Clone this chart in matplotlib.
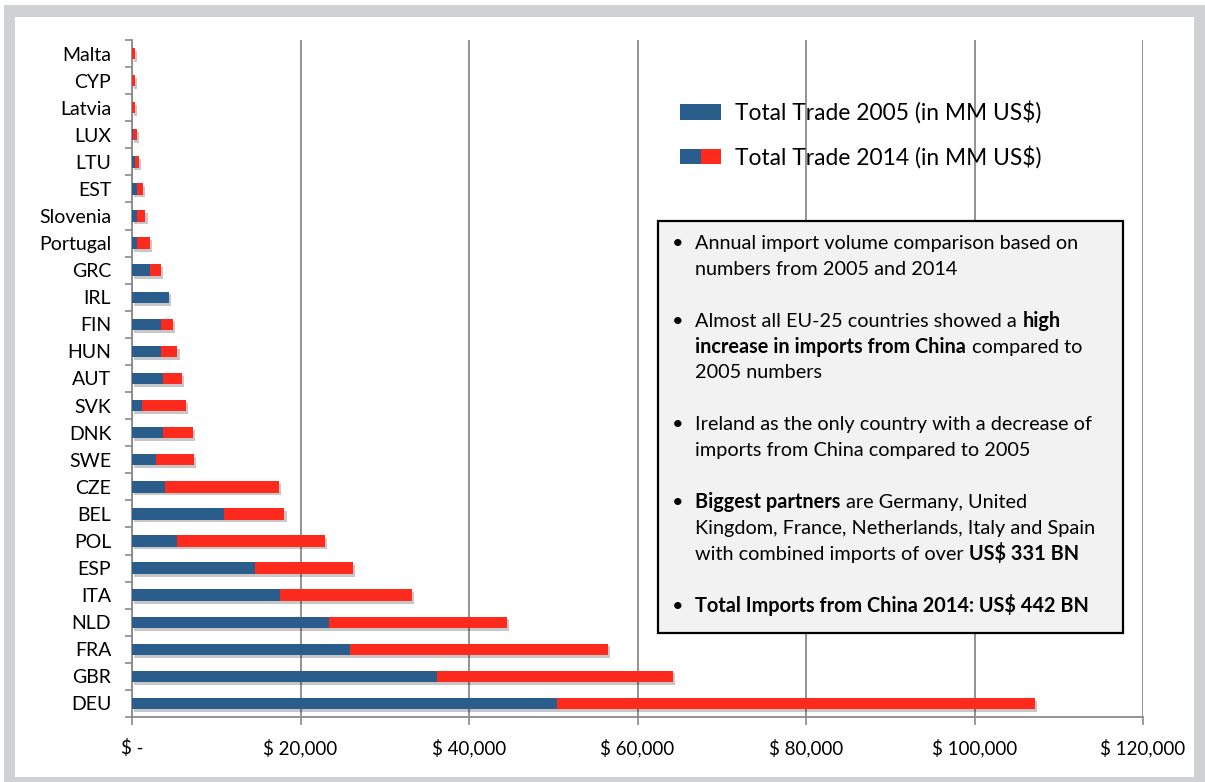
import numpy as np
import matplotlib
matplotlib.use('Agg')
import matplotlib.pyplot as plt
from matplotlib.patches import Rectangle, Patch
from matplotlib.legend_handler import HandlerTuple
from matplotlib.ticker import FuncFormatter, MultipleLocator
import matplotlib.patheffects as pe

plt.rcParams['font.family'] = ['Lato', 'DejaVu Sans']
plt.rcParams['text.parse_math'] = False

# imports from China, MM US$ (bottom to top)
countries = ['DEU', 'GBR', 'FRA', 'NLD', 'ITA', 'ESP', 'POL', 'BEL', 'CZE', 'SWE',
             'DNK', 'SVK', 'AUT', 'HUN', 'FIN', 'IRL', 'GRC', 'Portugal', 'Slovenia',
             'EST', 'LTU', 'LUX', 'Latvia', 'CYP', 'Malta']
trade_2005 = [50500, 36200, 25900, 23400, 17600, 14600, 5400, 10900, 3900, 2900,
              3700, 1200, 3700, 3400, 3400, 4400, 2100, 550, 550, 550,
              300, 100, 50, 50, 50]
trade_2014 = [107200, 64200, 56500, 44500, 33200, 26200, 22900, 18100, 17400, 7400,
              7200, 6400, 5900, 5400, 4900, 3900, 3400, 2100, 1600, 1300,
              800, 550, 300, 300, 360]
legend_labels = ['Total Trade 2005 (in MM US$)', 'Total Trade 2014 (in MM US$)']

notes = [
    (0, True, [('Annual import volume comparison based on', False)]),
    (1, False, [('numbers from 2005 and 2014', False)]),
    (3, True, [('Almost all EU-25 countries showed a ', False), ('high', True)]),
    (4, False, [('increase in imports from China', True), (' compared to', False)]),
    (5, False, [('2005 numbers', False)]),
    (7, True, [('Ireland as the only country with a decrease of', False)]),
    (8, False, [('imports from China compared to 2005', False)]),
    (10, True, [('Biggest partners', True), (' are Germany, United', False)]),
    (11, False, [('Kingdom, France, Netherlands, Italy and Spain', False)]),
    (12, False, [('with combined imports of over ', False), ('US$ 331 BN', True)]),
    (14, True, [('Total Imports from China 2014: US$ 442 BN', True)]),
]

blue = '#2b5d8c'
red = '#fe2a1e'
grid_gray = '#8a8a8a'

W, H = 1205, 782
def fx(px):
    return px / W
def fy(py):
    return 1 - py / H

fig = plt.figure(figsize=(W / 100, H / 100), dpi=100)
fig.patch.set_facecolor('white')
# grey frame round the slide
fig.patches.append(Rectangle((fx(4), 0), 1 - fx(4), fy(5), transform=fig.transFigure,
                             facecolor='#d0d1d3', edgecolor='none', zorder=-2))
fig.patches.append(Rectangle((fx(15), fy(777)), fx(1194) - fx(15), fy(17) - fy(777),
                             transform=fig.transFigure, facecolor='white',
                             edgecolor='none', zorder=-1))

ax = fig.add_axes([fx(132), fy(717), fx(1143) - fx(132), fy(40) - fy(717)])
ax.set_facecolor('none')

y = np.arange(len(countries))
t05 = np.array(trade_2005)
t14 = np.array(trade_2014)
bh = 0.42
# soft shadow under the bars
ax.barh(y, np.maximum(t05, t14), height=bh, color='k', zorder=2,
        path_effects=[pe.SimplePatchShadow(offset=(1.5, -2), shadow_rgbFace='k', alpha=0.22)])
ax.barh(y, t14, height=bh, color=red, zorder=3, lw=0)
ax.barh(y, t05, height=bh, color=blue, zorder=4, lw=0)

ax.set_xlim(0, 120000)
ax.set_ylim(-0.5, len(countries) - 0.5)
ax.xaxis.set_major_locator(MultipleLocator(20000))
ax.xaxis.set_major_formatter(FuncFormatter(lambda v, p: '$ -' if v == 0 else '$ {:,.0f}'.format(v)))
ax.set_yticks(y)
ax.set_yticklabels(countries)
ax.set_yticks(np.arange(-0.5, len(countries), 1), minor=True)
ax.tick_params(axis='y', which='major', length=0, pad=15, labelsize=14)
ax.tick_params(axis='y', which='minor', length=5, width=1.2, color=grid_gray)
ax.tick_params(axis='x', length=6, width=1.2, color=grid_gray, pad=10, labelsize=13.5)
ax.xaxis.grid(True, color=grid_gray, lw=1.3)
ax.set_axisbelow(True)
for s in ['top', 'right']:
    ax.spines[s].set_visible(False)
for s in ['left', 'bottom']:
    ax.spines[s].set_color(grid_gray)
    ax.spines[s].set_linewidth(1.3)

h1 = Patch(facecolor=blue)
h2 = (Patch(facecolor=blue), Patch(facecolor=red))
fig.legend([h1, h2], legend_labels, handler_map={tuple: HandlerTuple(ndivide=None, pad=0)},
           loc='upper left', bbox_to_anchor=(fx(680), fy(101)), frameon=False, fontsize=16.4,
           handlelength=1.8, handleheight=0.65, labelspacing=0.95, handletextpad=0.6,
           borderaxespad=0, borderpad=0)

# notes box
fig.patches.append(Rectangle((fx(658), fy(633)), fx(1122.5) - fx(658), fy(220.5) - fy(633),
                             transform=fig.transFigure, facecolor='#f2f2f2',
                             edgecolor='black', lw=1.6, zorder=5))

renderer = fig.canvas.get_renderer()
fs = 14.3

def text_w(s, weight):
    t = fig.text(0, 0, s, fontsize=fs, fontweight=weight)
    w = t.get_window_extent(renderer).width
    t.remove()
    return w

space_w = {'normal': text_w('x x', 'normal') - text_w('xx', 'normal'),
           'bold': text_w('x x', 'bold') - text_w('xx', 'bold')}

for slot, bullet, segs in notes:
    yb = fy(249 + slot * 25.9)
    if bullet:
        fig.text(fx(672), yb, '•', fontsize=fs, va='baseline', zorder=6)
    x = 695.5
    for s, bold in segs:
        weight = 'bold' if bold else 'normal'
        stripped = s.strip(' ')
        x += (len(s) - len(s.lstrip(' '))) * space_w[weight]
        t = fig.text(fx(x), yb, stripped, fontsize=fs, fontweight=weight,
                     va='baseline', ha='left', zorder=6)
        x += t.get_window_extent(renderer).width
        x += (len(s) - len(s.rstrip(' '))) * space_w[weight]

fig.savefig('out.png', dpi=100)
